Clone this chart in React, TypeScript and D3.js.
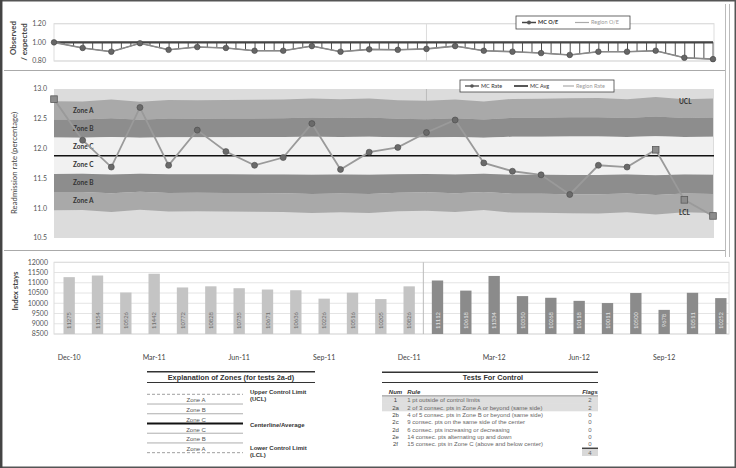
import React from 'react';
import * as d3 from 'd3';

// months on the x axis
const months = ['Dec-10', 'Jan-11', 'Feb-11', 'Mar-11', 'Apr-11', 'May-11', 'Jun-11', 'Jul-11', 'Aug-11', 'Sep-11', 'Oct-11', 'Nov-11',
  'Dec-11', 'Jan-12', 'Feb-12', 'Mar-12', 'Apr-12', 'May-12', 'Jun-12', 'Jul-12', 'Aug-12', 'Sep-12', 'Oct-12', 'Nov-12'];
const monthTicks = ['Dec-10', 'Mar-11', 'Jun-11', 'Sep-11', 'Dec-11', 'Mar-12', 'Jun-12', 'Sep-12'];

// observed / expected
const oeMC = [1.00, 0.94, 0.90, 0.99, 0.92, 0.95, 0.94, 0.91, 0.91, 0.96, 0.90, 0.925,
  0.92, 0.93, 0.96, 0.91, 0.90, 0.885, 0.865, 0.90, 0.90, 0.91, 0.835, 0.82];
const oeRegion = [1, 1, 1, 1, 1, 1, 1, 1, 1, 1, 1, 1, 1, 1, 1, 1, 1, 1, 1, 1, 1, 1, 1, 1];
const oeTicks = [0.8, 1.0, 1.2];

// readmission rate
const mcRate = [12.83, 12.14, 11.69, 12.69, 11.72, 12.31, 11.95, 11.72, 11.85, 12.42, 11.65, 11.94,
  12.02, 12.27, 12.48, 11.76, 11.62, 11.56, 11.23, 11.72, 11.69, 11.98, 11.14, 10.87];
const mcAvg = 11.88;
const sigma = [0.305, 0.304, 0.315, 0.302, 0.312, 0.311, 0.312, 0.313, 0.314, 0.320, 0.316, 0.320,
  0.311, 0.307, 0.314, 0.304, 0.318, 0.319, 0.322, 0.323, 0.316, 0.329, 0.316, 0.320];
const flagged = [0, 21, 22, 23];
const rateTicks = [10.5, 11.0, 11.5, 12.0, 12.5, 13.0];

// index stays
const indexStays = [11275, 11354, 10526, 11442, 10772, 10828, 10735, 10671, 10636, 10226, 10516, 10205,
  10826, 11112, 10618, 11334, 10350, 10268, 10118, 10011, 10500, 9678, 10511, 10252];
const staysTicks = [8500, 9000, 9500, 10000, 10500, 11000, 11500, 12000];

// tables
const zoneNames = ['Zone A', 'Zone B', 'Zone C', 'Zone C', 'Zone B', 'Zone A'];
const testNums = ['1', '2a', '2b', '2c', '2d', '2e', '2f'];
const testRules = [
  '1 pt outside of control limits',
  '2 of 3 consec. pts in Zone A or beyond (same side)',
  '4 of 5 consec. pts in Zone B or beyond (same side)',
  '9 consec. pts on the same side of the center',
  '6 consec. pts increasing or decreasing',
  '14 consec. pts alternating up and down',
  '15 consec. pts in Zone C (above and below center)',
];
const testFlags = [2, 2, 0, 0, 0, 0, 0];

const CHART_FONT = 'Lato, "Open Sans", sans-serif';
const TABLE_FONT = '"Liberation Sans", Arial, sans-serif';

// rotated axis title, anchored at its middle
const VTitle = ({ x, y, text, bold }: { x: number; y: number; text: string; bold?: boolean }) => (
  <text transform={`rotate(-90, ${x}, ${y})`} x={x} y={y} textAnchor="middle" dy="0.35em"
    fontSize={7.8} fontWeight={bold ? 'bold' : 'normal'} fill="#444">{text}</text>
);

export default function App() {
  const W = 736, H = 468;

  const x = d3.scalePoint<string>().domain(months).range([54, 713]);
  const xBar = d3.scaleBand<string>().domain(months).range([55, 735]).paddingInner(0.6).paddingOuter(0.3);

  const yOE = d3.scaleLinear().domain([0.8, 1.2]).range([61, 23.7]);
  const yRate = d3.scaleLinear().domain([10.5, 13]).range([238, 89]);
  const yStays = d3.scaleLinear().domain([8500, 12000]).range([334, 262.3]);

  const idx = d3.range(months.length);

  // O/E hatched area
  const oeArea = d3.area<number>()
    .x(i => x(months[i])!)
    .y0(i => yOE(oeRegion[i]))
    .y1(i => yOE(oeMC[i]));
  const oeLine = d3.line<number>().x(i => x(months[i])!).y(i => yOE(oeMC[i]));

  // zone bands
  const band = (lo: number, hi: number) => d3.area<number>()
    .x(i => x(months[i])!)
    .y0(i => yRate(mcAvg + lo * sigma[i]))
    .y1(i => yRate(mcAvg + hi * sigma[i]))(idx)!;
  const belowLCL = d3.area<number>()
    .x(i => x(months[i])!)
    .y0(() => yRate(10.5))
    .y1(i => yRate(mcAvg - 3 * sigma[i]))(idx)!;
  const rateLine = d3.line<number>().x(i => x(months[i])!).y(i => yRate(mcRate[i]));

  const zoneA = '#a9a9a9', zoneB = '#8d8d8d', zoneC = '#f1f1f1', outer = '#dcdcdc';
  const zoneLabels = [
    { t: 'Zone A', k: 2.5 }, { t: 'Zone B', k: 1.5 }, { t: 'Zone C', k: 0.5 },
    { t: 'Zone C', k: -0.5 }, { t: 'Zone B', k: -1.5 }, { t: 'Zone A', k: -2.5 },
  ];

  const jan12 = x('Jan-12')!;
  const barSep = (xBar('Dec-11')! + xBar('Jan-12')! + xBar.bandwidth()) / 2;

  // explanation table geometry
  const zLine0 = 394.3, zPitch = 9.73;
  const tRow0 = 400.3, tPitch = 7.33;

  return (
    <svg width={W} height={H} style={{ position: 'absolute', left: 0, top: 0, display: 'block', background: '#fff' }}
      fontFamily={CHART_FONT}>
      <defs>
        <pattern id="hatch" patternUnits="userSpaceOnUse" x={54} y={0} width={28.65 / 3} height={10}>
          <line x1={0.5} y1={0} x2={0.5} y2={10} stroke="#333" strokeWidth={0.9} />
        </pattern>
      </defs>

      {/* frame */}
      <rect x={0.75} y={0.75} width={W - 1.5} height={H - 1.5} fill="none" stroke="#555" strokeWidth={1.5} />
      <line x1={1.2} y1={0} x2={1.2} y2={H} stroke="#444" strokeWidth={2.5} />
      <line x1={4} y1={70.5} x2={725} y2={70.5} stroke="#aaa" />
      <line x1={4} y1={250.5} x2={725} y2={250.5} stroke="#aaa" />
      <line x1={725.5} y1={4} x2={725.5} y2={257} stroke="#bbb" />
      <line x1={729.5} y1={4} x2={729.5} y2={257} stroke="#bbb" />

      {/* ===== O/E panel ===== */}
      <rect x={54} y={yOE(1.2)} width={660} height={yOE(0.8) - yOE(1.2)} fill="none" stroke="#ddd" />
      {oeTicks.map(t => (
        <g key={t}>
          <line x1={54} x2={714} y1={yOE(t)} y2={yOE(t)} stroke="#ddd" />
          <text x={46} y={yOE(t)} textAnchor="end" dy="0.35em" fontSize={7} fill="#555">{t.toFixed(2)}</text>
        </g>
      ))}
      <line x1={jan12} x2={jan12} y1={yOE(1.2)} y2={yOE(0.8)} stroke="#ddd" />
      <path d={oeArea(idx)!} fill="url(#hatch)" stroke="#444" strokeWidth={0.8} />
      <line x1={54} x2={713} y1={yOE(1)} y2={yOE(1)} stroke="#444" strokeWidth={2.2} />
      <path d={oeLine(idx)!} fill="none" stroke="#8a8a8a" strokeWidth={1.6} />
      {idx.map(i => (
        <circle key={i} cx={x(months[i])} cy={yOE(oeMC[i])} r={2.8} fill="#666" stroke="#444" strokeWidth={0.6} />
      ))}
      <VTitle x={13} y={38} text="Observed" bold />
      <VTitle x={24} y={42} text="/ expected" bold />
      {/* O/E legend */}
      <rect x={516} y={16} width={114} height={13} fill="#fff" stroke="#444" strokeWidth={0.8} />
      <line x1={522} x2={536} y1={22.5} y2={22.5} stroke="#444" strokeWidth={1.5} />
      <circle cx={529} cy={22.5} r={2} fill="#555" />
      <text x={538} y={22.5} dy="0.35em" fontSize={5.5} fontWeight="bold" fill="#333">MC O/E</text>
      <line x1={575} x2={589} y1={22.5} y2={22.5} stroke="#aaa" strokeWidth={1.2} />
      <text x={591} y={22.5} dy="0.35em" fontSize={5.5} fill="#999">Region O/E</text>

      {/* ===== rate panel ===== */}
      <rect x={54} y={yRate(13)} width={660} height={yRate(10.5) - yRate(13)} fill={outer} />
      <line x1={jan12} x2={jan12} y1={yRate(13)} y2={yRate(10.5)} stroke="#bdbdbd" />
      <path d={belowLCL} fill={outer} />
      <path d={band(2, 3)} fill={zoneA} />
      <path d={band(1, 2)} fill={zoneB} />
      <path d={band(-1, 1)} fill={zoneC} />
      <path d={band(-2, -1)} fill={zoneB} />
      <path d={band(-3, -2)} fill={zoneA} />
      {zoneLabels.map((z, i) => (
        <text key={i} x={73} y={yRate(mcAvg + z.k * sigma[0])} dy="0.35em" fontSize={6.5}
          fontWeight="bold" fill="#333">{z.t}</text>
      ))}
      <text x={679} y={yRate(mcAvg + 3 * sigma[22]) + 2} dy="0.35em" fontSize={6.5} fontWeight="bold" fill="#333">UCL</text>
      <text x={679} y={yRate(mcAvg - 3 * sigma[22]) + 0.5} dy="0.35em" fontSize={6.5} fontWeight="bold" fill="#333">LCL</text>
      <line x1={54} x2={714} y1={yRate(mcAvg)} y2={yRate(mcAvg)} stroke="#111" strokeWidth={1.6} />
      <path d={rateLine(idx)!} fill="none" stroke="#9a9a9a" strokeWidth={1.8} />
      {idx.map(i => flagged.includes(i) ? (
        <rect key={i} x={x(months[i])! - 3.3} y={yRate(mcRate[i]) - 3.3} width={6.6} height={6.6}
          fill="#8c8c8c" stroke="#5a5a5a" strokeWidth={0.8} />
      ) : (
        <circle key={i} cx={x(months[i])} cy={yRate(mcRate[i])} r={3} fill="#6a6a6a" stroke="#4a4a4a" strokeWidth={0.6} />
      ))}
      {rateTicks.map(t => (
        <text key={t} x={47} y={yRate(t)} textAnchor="end" dy="0.35em" fontSize={7} fill="#555">{t.toFixed(1)}</text>
      ))}
      <VTitle x={14} y={163} text="Readmission rate (percentage)" />
      {/* rate legend */}
      <rect x={460} y={80} width={154} height={12} fill="#fff" stroke="#444" strokeWidth={0.8} />
      <line x1={465} x2={479} y1={86} y2={86} stroke="#555" strokeWidth={1.4} />
      <circle cx={472} cy={86} r={1.8} fill="#555" />
      <text x={481} y={86} dy="0.35em" fontSize={5.5} fill="#333">MC Rate</text>
      <line x1={514} x2={528} y1={86} y2={86} stroke="#111" strokeWidth={1.4} />
      <text x={530} y={86} dy="0.35em" fontSize={5.5} fill="#333">MC Avg</text>
      <line x1={563} x2={574} y1={86} y2={86} stroke="#aaa" strokeWidth={1.2} />
      <text x={576} y={86} dy="0.35em" fontSize={5.5} fill="#999">Region Rate</text>

      {/* ===== index stays panel ===== */}
      {staysTicks.map(t => (
        <g key={t}>
          <line x1={54} x2={729} y1={yStays(t)} y2={yStays(t)} stroke="#e4e4e4" />
          <text x={48} y={yStays(t)} textAnchor="end" dy="0.35em" fontSize={7} fill="#555">{t}</text>
        </g>
      ))}
      <rect x={54} y={yStays(12000)} width={675} height={yStays(8500) - yStays(12000)} fill="none" stroke="#ddd" />
      <line x1={barSep} x2={barSep} y1={yStays(12000)} y2={yStays(8500)} stroke="#bbb" />
      {idx.map(i => {
        const cx = xBar(months[i])! + xBar.bandwidth() / 2;
        const dark = i >= 13;
        return (
          <g key={i}>
            <rect x={xBar(months[i])} y={yStays(indexStays[i])} width={xBar.bandwidth()}
              height={yStays(8500) - yStays(indexStays[i])} fill={dark ? '#8b8b8b' : '#c4c4c4'} />
            <text transform={`rotate(-90, ${cx}, 320.5)`} x={cx} y={320.5} textAnchor="middle" dy="0.35em"
              fontSize={5.8} fill={dark ? '#e2e2e2' : '#6e6e6e'}>{indexStays[i]}</text>
          </g>
        );
      })}
      {monthTicks.map(m => (
        <text key={m} x={xBar(m)! + xBar.bandwidth() / 2} y={358} textAnchor="middle" dy="0.35em"
          fontSize={7} fill="#444">{m}</text>
      ))}
      <VTitle x={15} y={291} text="Index stays" bold />

      {/* ===== explanation of zones ===== */}
      <g fontFamily={TABLE_FONT}>
        <line x1={147} x2={315} y1={371.7} y2={371.7} stroke="#333" strokeWidth={1.5} />
        <text x={231} y={377.3} textAnchor="middle" dy="0.35em" fontSize={7.3} fontWeight="bold" fill="#333">
          Explanation of Zones (for tests 2a-d)</text>
        <line x1={147} x2={315} y1={382.5} y2={382.5} stroke="#333" strokeWidth={1.2} />
        {d3.range(7).map(k => {
          const y = zLine0 + k * zPitch;
          const dashed = k === 0 || k === 6;
          const center = k === 3;
          return (
            <line key={k} x1={147} x2={243} y1={y} y2={y} stroke={center ? '#111' : dashed ? '#888' : '#999'}
              strokeWidth={center ? 2 : 0.8} strokeDasharray={dashed ? '3,2' : undefined} />
          );
        })}
        {zoneNames.map((z, k) => (
          <text key={k} x={196} y={zLine0 + (k + 1) * zPitch - 3.8} textAnchor="middle" dy="0.35em"
            fontSize={6} fill="#555">{z}</text>
        ))}
        <text x={250} y={392} dy="0.35em" fontSize={6} fontWeight="bold" fill="#333">Upper Control Limit</text>
        <text x={250} y={398.8} dy="0.35em" fontSize={6} fontWeight="bold" fill="#333">(UCL)</text>
        <text x={250} y={425} dy="0.35em" fontSize={6} fontWeight="bold" fill="#333">Centerline/Average</text>
        <text x={250} y={448.3} dy="0.35em" fontSize={6} fontWeight="bold" fill="#333">Lower Control Limit</text>
        <text x={250} y={455.2} dy="0.35em" fontSize={6} fontWeight="bold" fill="#333">(LCL)</text>
      </g>

      {/* ===== tests for control ===== */}
      <g fontFamily={TABLE_FONT}>
        <line x1={382} x2={598} y1={372.3} y2={372.3} stroke="#333" strokeWidth={1.5} />
        <text x={493} y={377.3} textAnchor="middle" dy="0.35em" fontSize={7.3} fontWeight="bold" fill="#333">
          Tests For Control</text>
        <line x1={382} x2={598} y1={382.5} y2={382.5} stroke="#333" strokeWidth={1.2} />
        <text x={395.5} y={392.3} textAnchor="middle" dy="0.35em" fontSize={6} fontWeight="bold" fontStyle="italic" fill="#333">Num</text>
        <text x={407.3} y={392.3} dy="0.35em" fontSize={6} fontWeight="bold" fontStyle="italic" fill="#333">Rule</text>
        <text x={590} y={392.3} textAnchor="middle" dy="0.35em" fontSize={6} fontWeight="bold" fontStyle="italic" fill="#333">Flags</text>
        <line x1={382} x2={598} y1={396} y2={396} stroke="#444" strokeWidth={0.8} />
        {testRules.map((r, k) => {
          const y = tRow0 + k * tPitch;
          return (
            <g key={k}>
              {testFlags[k] > 0 && (
                <rect x={382} y={y - tPitch / 2} width={216} height={tPitch} fill="#dedede" />
              )}
              <text x={395.5} y={y} textAnchor="middle" dy="0.35em" fontSize={6} fill="#444">{testNums[k]}</text>
              <text x={407.3} y={y} dy="0.35em" fontSize={6} fill="#666">{r}</text>
              <text x={590} y={y} textAnchor="middle" dy="0.35em" fontSize={6} fill="#666">{testFlags[k]}</text>
            </g>
          );
        })}
        <line x1={582} x2={598} y1={448.3} y2={448.3} stroke="#444" strokeWidth={1.5} />
        <rect x={582} y={449} width={16} height={7} fill="#d8d8d8" />
        <text x={590} y={452.6} textAnchor="middle" dy="0.35em" fontSize={6} fill="#666">{d3.sum(testFlags)}</text>
      </g>
    </svg>
  );
}
